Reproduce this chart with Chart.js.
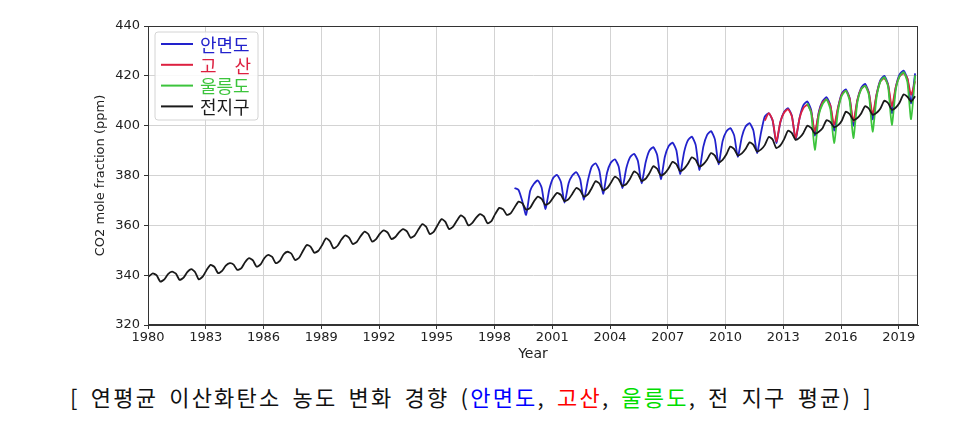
<!DOCTYPE html>
<html>
<head>
<meta charset="utf-8">
<script src="https://cdn.jsdelivr.net/npm/chart.js@4"></script>
<style>
  html, body { margin: 0; padding: 0; background: #fff; }
  #wrap { position: relative; width: 976px; height: 427px; }
  #chart { position: absolute; left: 0; top: 0; }
  #caption {
    position: absolute; left: 70px; top: 382px;
    font-family: "Noto Sans CJK KR", "Noto Sans", sans-serif;
    font-size: 22px; line-height: 29px; color: #111;
    letter-spacing: 2.2px; word-spacing: 4px; white-space: nowrap;
  }
</style>
</head>
<body>
<div id="wrap">
  <canvas id="chart" width="976" height="370"></canvas>
  <div id="caption">[ 연평균 이산화탄소 농도 변화 경향 (<span style="color:#0000ff">안면도</span>, <span style="color:#ff0000">고산</span>, <span style="color:#00dd00">울릉도</span>, 전 지구 평균) ]</div>
</div>
<script>
(function() {
    // sample positions inside each year (Jan, Apr, Jun, Aug, Nov)
    const monthPos = [0.04, 0.25, 0.45, 0.64, 0.85];
    const xTickYears = [1980, 1983, 1986, 1989, 1992, 1995, 1998, 2001, 2004, 2007, 2010, 2013, 2016, 2019];
    const yTicks = [320, 340, 360, 380, 400, 420, 440];

    const seriesNames = ["안면도", "고\u3000산", "울릉도", "전지구"];
    const seriesColors = ["#2222cc", "#dd2040", "#3cc43c", "#1a1a1a"];

    // 안면도, from 1999
    const anmyeonStart = 1999;
    const anmyeonValues = [
        375.0, 374.2, 369.5, 364.2, 373.8,
        376.6, 378.0, 375.1, 366.5, 374.5,
        378.9, 380.2, 377.4, 369.1, 376.9,
        380.0, 381.3, 378.5, 370.2, 378.0,
        383.4, 384.9, 381.8, 372.6, 381.2,
        385.1, 386.5, 383.6, 374.9, 383.0,
        387.3, 388.7, 385.8, 376.9, 385.2,
        389.9, 391.4, 388.2, 378.5, 387.5,
        391.7, 393.2, 390.0, 380.6, 389.4,
        394.0, 395.6, 392.3, 382.2, 391.6,
        396.2, 397.8, 394.5, 384.5, 393.8,
        397.6, 399.0, 396.1, 387.5, 395.5,
        399.6, 401.0, 398.0, 389.0, 397.4,
        403.6, 405.0, 402.0, 393.0, 401.4,
        405.5, 407.0, 403.9, 394.5, 403.2,
        408.1, 409.7, 406.3, 396.0, 405.6,
        409.8, 411.4, 408.1, 398.0, 407.4,
        412.9, 414.6, 411.0, 400.0, 410.2,
        415.1, 416.8, 413.2, 402.5, 412.5,
        418.2, 420.0, 416.3, 405.0, 415.5,
        420.5, 422.1, 418.8, 409.0, 421.0
    ];

    // 고산, from 2012
    const gosanStart = 2012;
    const gosanValues = [
        402.0, 405.0, 402.2, 393.6, 401.6,
        405.2, 406.6, 403.7, 395.0, 403.1,
        407.0, 408.3, 405.6, 397.6, 405.1,
        409.3, 410.5, 408.0, 400.3, 407.4,
        412.5, 414.0, 410.9, 401.7, 410.3,
        414.6, 416.0, 413.1, 404.5, 412.6,
        417.7, 419.0, 416.2, 407.8, 415.6,
        419.7, 421.0, 418.9, 412.4, 417.8
    ];

    // 울릉도, from 2014
    const ulleungStart = 2014;
    const ulleungValues = [
        null,  409.0, 405.0, 390.3, 404.3,
        408.6, 410.5, 406.5, 393.0, 406.1,
        412.0, 414.0, 410.0, 395.0, 409.3,
        414.5, 416.0, 412.3, 397.6, 411.4,
        417.6, 419.5, 415.5, 400.3, 414.7,
        419.8, 421.5, 417.5, 402.6, 420.2
    ];

    // 전지구, from 1980
    const globalStart = 1980;
    const globalValues = [
        339.5, 340.7, 339.9, 337.4, 338.3,
        340.4, 341.4, 340.6, 338.1, 339.0,
        341.2, 342.4, 341.2, 338.3, 339.5,
        342.0, 344.1, 343.3, 340.8, 341.7,
        343.8, 344.8, 344.2, 342.1, 342.8,
        345.2, 346.8, 345.9, 343.4, 344.3,
        346.8, 348.1, 347.3, 344.8, 345.7,
        348.3, 349.4, 348.6, 346.1, 347.0,
        349.6, 352.1, 351.4, 349.0, 349.8,
        352.0, 354.8, 353.6, 350.8, 351.8,
        354.2, 356.0, 355.0, 352.5, 353.4,
        355.6, 357.5, 356.4, 353.5, 354.5,
        356.6, 358.0, 357.1, 354.5, 355.3,
        357.2, 358.5, 357.6, 355.0, 355.9,
        358.2, 360.5, 359.4, 356.5, 357.5,
        360.0, 362.5, 361.4, 358.5, 359.5,
        361.8, 364.0, 362.9, 360.0, 361.0,
        363.0, 364.5, 363.6, 360.8, 361.8,
        364.6, 367.0, 366.4, 364.2, 364.9,
        367.2, 369.5, 368.8, 366.3, 367.0,
        369.5, 371.5, 370.6, 368.2, 369.0,
        371.0, 373.0, 372.2, 369.7, 370.5,
        372.6, 375.0, 374.0, 371.5, 372.4,
        374.8, 377.7, 376.8, 374.0, 374.9,
        377.0, 379.5, 378.5, 375.8, 376.6,
        378.7, 381.6, 380.6, 377.8, 378.7,
        380.8, 383.7, 382.7, 380.0, 380.9,
        382.8, 385.5, 384.5, 381.8, 382.7,
        384.6, 387.3, 386.3, 383.6, 384.5,
        386.3, 389.0, 388.0, 385.3, 386.3,
        388.4, 391.6, 390.6, 388.0, 388.9,
        390.6, 393.3, 392.3, 389.6, 390.5,
        392.2, 395.5, 394.4, 391.0, 392.1,
        394.5, 398.0, 397.0, 394.3, 395.2,
        397.0, 400.0, 399.1, 396.8, 397.6,
        399.0, 402.2, 401.4, 399.4, 400.2,
        402.0, 405.6, 404.6, 402.3, 403.1,
        404.8, 407.8, 406.8, 404.4, 405.2,
        406.8, 410.0, 409.0, 406.4, 407.3,
        409.2, 412.5, 411.6, 409.7, 411.8
    ];

    function toPoints(startYear, values) {
        return values.map((v, i) => ({
            x: startYear + Math.floor(i / monthPos.length) + monthPos[i % monthPos.length],
            y: v
        }));
    }

    const series = [
        toPoints(anmyeonStart, anmyeonValues),
        toPoints(gosanStart, gosanValues),
        toPoints(ulleungStart, ulleungValues),
        toPoints(globalStart, globalValues)
    ];
    const drawOrder = [4, 3, 2, 1];

    // legend box drawn inside the plot, like the original
    const boxLegend = {
        id: "boxLegend",
        afterDraw(chart) {
            const ctx = chart.ctx;
            const area = chart.chartArea;
            const x = area.left + 7, y = area.top + 6, w = 103, h = 88;
            ctx.save();
            ctx.fillStyle = "rgba(255,255,255,0.85)";
            ctx.strokeStyle = "#d4d4d4";
            ctx.lineWidth = 1;
            ctx.beginPath();
            ctx.roundRect(x, y, w, h, 3);
            ctx.fill();
            ctx.stroke();
            ctx.font = '18px "Noto Sans CJK KR", sans-serif';
            ctx.textBaseline = "middle";
            chart.data.datasets.forEach((ds, i) => {
                const ly = y + 12 + i * 20.8;
                ctx.strokeStyle = ds.borderColor;
                ctx.lineWidth = 2;
                ctx.beginPath();
                ctx.moveTo(x + 6, ly);
                ctx.lineTo(x + 38, ly);
                ctx.stroke();
                ctx.fillStyle = ds.borderColor;
                ctx.fillText(ds.label, x + 45, ly + 1);
            });
            ctx.restore();
        }
    };

    const frame = {
        id: "frame",
        afterDatasetsDraw(chart) {
            const a = chart.chartArea;
            const ctx = chart.ctx;
            ctx.save();
            ctx.strokeStyle = "#333";
            ctx.lineWidth = 1;
            ctx.strokeRect(a.left + 0.5, a.top + 0.5, a.right - a.left - 1, a.bottom - a.top - 1);
            ctx.restore();
        }
    };

    const tickFont = { family: "DejaVu Sans", size: 13 };

    new Chart(document.getElementById("chart"), {
        type: "line",
        data: {
            datasets: series.map((pts, i) => ({
                label: seriesNames[i],
                data: pts,
                borderColor: seriesColors[i],
                borderWidth: 1.8,
                pointRadius: 0,
                fill: false,
                tension: 0.2,
                order: drawOrder[i]
            }))
        },
        options: {
            responsive: false,
            animation: false,
            layout: { padding: { left: 93, right: 58, top: 26, bottom: 4 } },
            plugins: { legend: { display: false }, tooltip: { enabled: false } },
            scales: {
                x: {
                    type: "linear",
                    min: 1980,
                    max: 2020,
                    afterBuildTicks(scale) {
                        scale.ticks = xTickYears.map((v) => ({ value: v }));
                    },
                    afterFit(scale) { scale.height = 41; },
                    ticks: {
                        callback: (v) => String(v),
                        font: tickFont,
                        color: "#222",
                        padding: 1,
                        maxRotation: 0,
                        autoSkip: false
                    },
                    grid: { color: "#d3d3d3", tickColor: "#333", tickLength: 4 },
                    border: { color: "#333" },
                    title: {
                        display: true,
                        text: "Year",
                        font: { family: "DejaVu Sans", size: 14 },
                        color: "#222",
                        padding: { top: 0, bottom: 3 }
                    }
                },
                y: {
                    min: 320,
                    max: 440,
                    afterBuildTicks(scale) {
                        scale.ticks = yTicks.map((v) => ({ value: v }));
                    },
                    afterFit(scale) { scale.width = 55; },
                    ticks: { font: tickFont, color: "#222", padding: 4 },
                    grid: { color: "#d3d3d3", tickColor: "#333", tickLength: 4 },
                    border: { color: "#333" },
                    title: {
                        display: true,
                        text: "CO2 mole fraction (ppm)",
                        font: { family: "DejaVu Sans", size: 13 },
                        color: "#222",
                        padding: { top: 0, bottom: 2 }
                    }
                }
            }
        },
        plugins: [boxLegend, frame]
    });
})();
</script>
</body>
</html>
